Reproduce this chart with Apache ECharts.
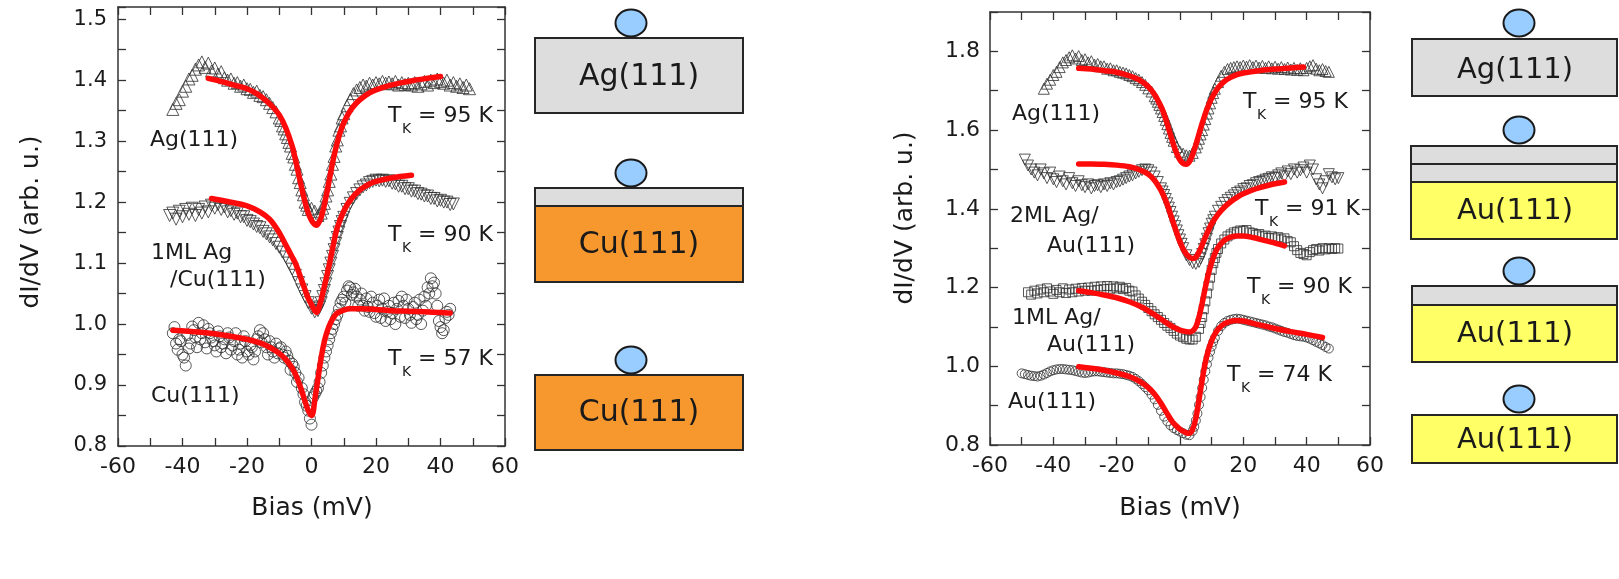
<!DOCTYPE html>
<html>
<head>
<meta charset="utf-8">
<script src="https://cdn.jsdelivr.net/npm/echarts@6/dist/echarts.min.js"></script>
<style>
html,body{margin:0;padding:0;background:#fff;}
#chart{width:1619px;height:579px;}
</style>
</head>
<body>
<div id="chart"></div>
<script>
// ---------------- data (bias in mV, dI/dV in arb. u.) ----------------
// Left panel: Ag(111), 1ML Ag/Cu(111), Cu(111)
const agLeftData = [
[-43,1.352],[-42,1.362],[-41,1.368],[-40,1.382],[-39,1.390],[-38,1.402],[-37,1.408],[-36,1.418],[-35,1.425],[-34,1.430],
[-33,1.421],[-32,1.428],[-31,1.415],[-30,1.420],[-29,1.410],[-28,1.414],[-27,1.404],[-26,1.400],[-25,1.402],[-24,1.395],
[-23,1.396],[-22,1.390],[-21,1.392],[-20,1.386],[-19,1.385],[-18,1.380],[-17,1.382],[-16,1.375],[-15,1.373],[-14,1.368],
[-13,1.362],[-12,1.355],[-11,1.348],[-10,1.338],[-9.5,1.334],[-9,1.325],[-8.5,1.320],[-8,1.312],[-7.5,1.306],[-7,1.298],
[-6.5,1.292],[-6,1.280],[-5.5,1.274],[-5,1.262],[-4.5,1.254],[-4,1.240],[-3.5,1.232],[-3,1.220],[-2.5,1.212],[-2,1.200],
[-1.5,1.195],[-1,1.188],[0,1.190],[1,1.185],[2,1.178],[3,1.182],[3.5,1.190],[4,1.198],[4.5,1.210],[5,1.220],[5.5,1.234],
[6,1.246],[6.5,1.262],[7,1.275],[7.5,1.292],[8,1.302],[8.5,1.318],[9,1.325],[9.5,1.338],[10,1.345],[11,1.358],[12,1.368],
[13,1.378],[14,1.384],[15,1.388],[16,1.392],[17,1.390],[18,1.395],[19,1.392],[20,1.396],[21,1.394],[22,1.398],[23,1.395],
[24,1.397],[25,1.394],[26,1.398],[27,1.392],[28,1.396],[29,1.393],[30,1.395],[31,1.392],[32,1.396],[33,1.390],[34,1.394],
[35,1.398],[36,1.392],[37,1.400],[38,1.396],[39,1.402],[40,1.398],[41,1.395],[42,1.400],[43,1.392],[44,1.396],[45,1.390],
[46,1.394],[47,1.388],[48,1.392],[49,1.386]
];
const agLeftFit = [
[-32,1.403],[-28,1.398],[-24,1.392],[-20,1.386],[-17,1.378],[-14,1.366],[-12,1.356],[-10,1.343],[-8,1.322],[-6,1.292],
[-5,1.270],[-4,1.246],[-3,1.222],[-2,1.200],[-1,1.182],[0,1.170],[1,1.163],[1.5,1.162],[2,1.164],[3,1.175],[4,1.196],
[5,1.222],[6,1.250],[7,1.276],[8,1.298],[9,1.316],[10,1.330],[12,1.350],[14,1.363],[16,1.372],[18,1.379],[20,1.384],
[24,1.391],[28,1.396],[32,1.400],[36,1.403],[40,1.406]
];
const agCuData = [
[-44,1.178],[-43,1.182],[-42,1.172],[-41,1.185],[-40,1.176],[-39,1.188],[-38,1.180],[-37,1.190],[-36,1.178],[-35,1.188],
[-34,1.182],[-33,1.192],[-32,1.184],[-31,1.195],[-30,1.190],[-29,1.196],[-28,1.188],[-27,1.192],[-26,1.184],[-25,1.186],
[-24,1.180],[-23,1.182],[-22,1.176],[-21,1.176],[-20,1.170],[-19,1.168],[-18,1.164],[-17,1.160],[-16,1.158],[-15,1.152],
[-14,1.148],[-13,1.143],[-12,1.138],[-11,1.132],[-10,1.126],[-9,1.118],[-8,1.110],[-7,1.100],[-6,1.090],[-5,1.080],
[-4,1.068],[-3,1.056],[-2,1.045],[-1,1.035],[0,1.026],[1,1.020],[2,1.022],[2.5,1.028],[3,1.035],[3.5,1.045],[4,1.055],
[4.5,1.066],[5,1.078],[5.5,1.089],[6,1.100],[6.5,1.111],[7,1.122],[7.5,1.132],[8,1.142],[8.5,1.151],[9,1.160],[9.5,1.168],
[10,1.175],[11,1.188],[12,1.198],[13,1.207],[14,1.214],[15,1.220],[16,1.225],[17,1.228],[18,1.232],[19,1.234],[20,1.236],
[21,1.235],[22,1.236],[23,1.234],[24,1.235],[25,1.231],[26,1.230],[27,1.226],[28,1.226],[29,1.222],[30,1.222],[31,1.218],
[32,1.218],[33,1.214],[34,1.213],[35,1.210],[36,1.210],[37,1.206],[38,1.206],[39,1.202],[40,1.203],[41,1.200],[42,1.200],
[43,1.196],[44,1.197]
];
const agCuFit = [
[-31,1.206],[-26,1.201],[-20,1.194],[-16,1.184],[-13,1.172],[-10,1.150],[-8,1.130],[-6,1.110],[-5,1.100],[-4,1.086],
[-3,1.071],[-2,1.056],[-1,1.042],[0,1.032],[1,1.022],[1.5,1.019],[2,1.022],[3,1.040],[4,1.062],[5,1.085],[6,1.110],
[7,1.136],[8,1.158],[10,1.185],[12,1.203],[15,1.220],[18,1.230],[20,1.234],[25,1.240],[31,1.244]
];
const cuLeftData = [
[-43,0.985],[-42,0.968],[-41,0.975],[-40,0.950],[-39,0.932],[-38,0.960],[-37,0.996],[-36,0.978],[-35,1.002],[-34,0.985],
[-33,0.970],[-32,0.992],[-31,0.978],[-30,0.965],[-29,0.988],[-28,0.962],[-27,0.975],[-26,0.985],[-25,0.958],[-24,0.972],
[-23,0.950],[-22,0.968],[-21,0.980],[-20,0.955],[-19,0.965],[-18,0.942],[-17,0.975],[-16,0.990],[-15,0.985],[-14,0.962],
[-13,0.972],[-12,0.955],[-11,0.968],[-10,0.960],[-9,0.950],[-8,0.955],[-7,0.940],[-6,0.935],[-5,0.920],[-4,0.912],
[-3,0.895],[-2.5,0.885],[-2,0.872],[-1.5,0.866],[-1,0.858],[-0.5,0.845],[0,0.835],[0.5,0.880],[1,0.885],[1.5,0.890],
[2,0.895],[2.5,0.905],[3,0.920],[3.5,0.932],[4,0.945],[4.5,0.955],[5,0.965],[5.5,0.975],[6,0.985],[6.5,0.992],[7,1.000],
[7.5,1.008],[8,1.015],[8.5,1.025],[9,1.035],[9.5,1.040],[10,1.045],[11,1.055],[12,1.060],[13,1.052],[14,1.045],[15,1.040],
[16,1.030],[17,1.042],[18,1.020],[19,1.035],[20,1.012],[21,1.040],[22,1.025],[23,1.005],[24,1.030],[25,1.018],[26,1.000],
[27,1.038],[28,1.045],[29,1.010],[30,1.025],[31,1.002],[32,1.035],[33,1.015],[34,1.000],[35,1.045],[36,1.060],[37,1.075],
[38,1.068],[39,1.030],[40,0.995],[41,0.990],[42,1.020],[43,1.025],
[-42.5,0.995],[-41.5,0.958],[-40.5,0.972],[-39.5,0.945],[-38.5,0.982],[-37.5,0.968],[-36.5,0.990],[-35.5,0.962],
[-34.5,0.975],[-33.5,0.998],[-32.5,0.960],[-31.5,0.985],[-30.5,0.972],[-29.5,0.955],[-28.5,0.980],[-27.5,0.968],
[-26.5,0.952],[-25.5,0.978],[-24.5,0.965],[-23.5,0.985],[-22.5,0.958],[-21.5,0.945],[-20.5,0.972],[-19.5,0.950],
[-18.5,0.962],[-17.5,0.955],[-16.5,0.980],[-15.5,0.970],[-14.5,0.975],[-13.5,0.950],[-12.5,0.962],[-11.5,0.945],
[-10.5,0.952],[-9.5,0.962],[-8.5,0.945],[-7.5,0.948],[-6.5,0.925],[-5.5,0.930],[-4.5,0.905],
[10.5,1.035],[11.5,1.062],[12.5,1.048],[13.5,1.058],[14.5,1.030],[15.5,1.050],[16.5,1.022],[17.5,1.028],[18.5,1.045],
[19.5,1.018],[20.5,1.030],[21.5,1.010],[22.5,1.042],[23.5,1.020],[24.5,1.008],[25.5,1.035],[26.5,1.025],[27.5,1.012],
[28.5,1.030],[29.5,1.040],[30.5,1.015],[31.5,1.028],[32.5,1.008],[33.5,1.040],[34.5,1.022],[35.5,1.030],[36.5,1.050],
[37.5,1.062],[38.5,1.050],[39.5,1.005],[40.5,0.985],[41.5,1.010],[42.5,1.015]
];
const cuLeftFit = [
[-43,0.990],[-35,0.987],[-30,0.984],[-25,0.980],[-20,0.975],[-16,0.969],[-13,0.962],[-10,0.952],[-8,0.942],[-6,0.928],
[-5,0.918],[-4,0.905],[-3,0.890],[-2,0.873],[-1,0.858],[0,0.850],[0.5,0.855],[1,0.875],[2,0.910],[3,0.945],[4,0.972],
[5,0.990],[6,1.003],[7,1.012],[8,1.018],[10,1.023],[12,1.025],[16,1.025],[20,1.024],[25,1.022],[30,1.021],[35,1.020],
[40,1.019],[43,1.018]
];

// Right panel: Ag(111), 2ML Ag/Au(111), 1ML Ag/Au(111), Au(111)
const agRightData = [
[-43,1.705],[-42,1.718],[-41,1.728],[-40,1.740],[-39,1.748],[-38,1.760],[-37,1.772],[-36,1.778],[-35,1.785],[-34,1.790],
[-33,1.782],[-32,1.788],[-31,1.778],[-30,1.780],[-29,1.772],[-28,1.775],[-27,1.766],[-26,1.768],[-25,1.762],[-24,1.762],
[-23,1.756],[-22,1.757],[-21,1.752],[-20,1.752],[-19,1.748],[-18,1.746],[-17,1.744],[-16,1.740],[-15,1.737],[-14,1.732],
[-13,1.728],[-12,1.722],[-11,1.715],[-10,1.706],[-9,1.698],[-8,1.686],[-7.5,1.680],[-7,1.672],[-6.5,1.664],[-6,1.655],
[-5.5,1.646],[-5,1.636],[-4.5,1.626],[-4,1.615],[-3.5,1.604],[-3,1.593],[-2.5,1.583],[-2,1.573],[-1,1.557],[0,1.545],
[1,1.540],[2,1.536],[3,1.535],[4,1.542],[5,1.556],[5.5,1.566],[6,1.578],[6.5,1.589],[7,1.600],[7.5,1.614],[8,1.628],
[8.5,1.642],[9,1.655],[9.5,1.668],[10,1.682],[10.5,1.694],[11,1.705],[12,1.722],[13,1.738],[14,1.748],[15,1.755],
[16,1.758],[17,1.760],[18,1.762],[19,1.760],[20,1.764],[21,1.761],[22,1.765],[23,1.760],[24,1.764],[25,1.759],[26,1.763],
[27,1.758],[28,1.762],[29,1.757],[30,1.761],[31,1.756],[32,1.760],[33,1.755],[34,1.759],[35,1.754],[36,1.758],[37,1.753],
[38,1.757],[39,1.752],[40,1.758],[41,1.762],[42,1.765],[43,1.756],[44,1.752],[45,1.755],[46,1.750],[47,1.748]
];
const agRightFit = [
[-32,1.757],[-28,1.755],[-24,1.751],[-20,1.747],[-16,1.738],[-13,1.728],[-10,1.710],[-8,1.690],[-6,1.660],[-5,1.640],
[-4,1.615],[-3,1.588],[-2,1.562],[-1,1.540],[0,1.524],[1,1.515],[2,1.513],[3,1.520],[4,1.538],[5,1.562],[6,1.590],
[7,1.617],[8,1.642],[9,1.663],[10,1.681],[12,1.707],[14,1.724],[16,1.734],[18,1.741],[20,1.745],[25,1.751],[30,1.755],
[35,1.758],[39,1.760]
];
const ag2AuData = [
[-49,1.525],[-48,1.510],[-47,1.500],[-46,1.492],[-45,1.485],[-44,1.500],[-43,1.490],[-42,1.478],[-41,1.492],[-40,1.475],
[-39,1.468],[-38,1.482],[-37,1.470],[-36,1.462],[-35,1.478],[-34,1.465],[-33,1.458],[-32,1.470],[-31,1.460],[-30,1.455],
[-29,1.462],[-28,1.452],[-27,1.458],[-26,1.460],[-25,1.455],[-24,1.462],[-23,1.458],[-22,1.465],[-21,1.462],[-20,1.468],
[-19,1.470],[-18,1.474],[-17,1.478],[-16,1.482],[-15,1.485],[-14,1.490],[-13,1.494],[-12,1.498],[-11,1.500],[-10,1.498],
[-9,1.492],[-8,1.482],[-7,1.468],[-6,1.452],[-5.5,1.444],[-5,1.435],[-4.5,1.425],[-4,1.414],[-3.5,1.403],[-3,1.392],
[-2.5,1.380],[-2,1.368],[-1.5,1.356],[-1,1.345],[-0.5,1.333],[0,1.322],[0.5,1.311],[1,1.300],[2,1.282],[3,1.270],
[4,1.262],[5,1.260],[6,1.265],[6.5,1.274],[7,1.285],[7.5,1.298],[8,1.310],[8.5,1.324],[9,1.338],[9.5,1.350],[10,1.362],
[10.5,1.371],[11,1.380],[12,1.395],[13,1.405],[14,1.415],[15,1.422],[16,1.428],[17,1.434],[18,1.440],[19,1.444],[20,1.450],
[21,1.452],[22,1.458],[23,1.460],[24,1.465],[25,1.468],[26,1.470],[27,1.474],[28,1.476],[29,1.480],[30,1.478],[31,1.485],
[32,1.490],[33,1.482],[34,1.495],[35,1.488],[36,1.500],[37,1.492],[38,1.498],[39,1.505],[40,1.492],[41,1.510],[42,1.500],
[43,1.475],[44,1.462],[45,1.452],[46,1.470],[47,1.488],[48,1.480],[49,1.475],[50,1.478]
];
const ag2AuFit = [
[-32,1.514],[-28,1.514],[-24,1.513],[-20,1.511],[-16,1.507],[-13,1.500],[-10,1.488],[-8,1.472],[-6,1.447],[-5,1.430],
[-4,1.410],[-3,1.386],[-2,1.362],[-1,1.338],[0,1.316],[1,1.298],[2,1.285],[3,1.277],[4,1.274],[5,1.277],[6,1.290],
[7,1.308],[8,1.328],[9,1.346],[10,1.362],[12,1.386],[14,1.404],[16,1.418],[18,1.429],[20,1.438],[24,1.451],[28,1.460],
[33,1.468]
];
const ag1AuData = [
[-48,1.188],[-47,1.182],[-46,1.192],[-45,1.185],[-44,1.195],[-43,1.188],[-42,1.198],[-41,1.190],[-40,1.184],[-39,1.194],
[-38,1.188],[-37,1.198],[-36,1.186],[-35,1.195],[-34,1.188],[-33,1.197],[-32,1.190],[-31,1.199],[-30,1.192],[-29,1.200],
[-28,1.192],[-27,1.202],[-26,1.194],[-25,1.203],[-24,1.196],[-23,1.204],[-22,1.197],[-21,1.203],[-20,1.198],[-19,1.202],
[-18,1.196],[-17,1.199],[-16,1.192],[-15,1.190],[-14,1.180],[-13,1.172],[-12,1.164],[-11,1.156],[-10,1.148],[-9,1.140],
[-8,1.132],[-7,1.125],[-6,1.118],[-5,1.110],[-4,1.103],[-3,1.097],[-2,1.090],[-1,1.083],[0,1.078],[1,1.074],[2,1.070],
[3,1.068],[4,1.068],[5,1.075],[6,1.095],[6.5,1.110],[7,1.125],[7.5,1.145],[8,1.165],[8.5,1.185],[9,1.205],[9.5,1.225],
[10,1.245],[10.5,1.262],[11,1.275],[11.5,1.288],[12,1.298],[13,1.312],[14,1.322],[15,1.330],[16,1.335],[17,1.340],
[18,1.342],[19,1.345],[20,1.344],[21,1.346],[22,1.340],[23,1.338],[24,1.334],[25,1.336],[26,1.330],[27,1.332],[28,1.326],
[29,1.330],[30,1.325],[31,1.328],[32,1.322],[33,1.325],[34,1.318],[35,1.315],[36,1.305],[37,1.295],[38,1.288],[39,1.285],
[40,1.282],[41,1.290],[42,1.295],[43,1.298],[44,1.294],[45,1.300],[46,1.297],[47,1.300],[48,1.298],[49,1.300],[50,1.299]
];
const ag1AuFit = [
[-32,1.192],[-28,1.187],[-24,1.181],[-20,1.174],[-16,1.164],[-12,1.150],[-10,1.141],[-8,1.131],[-6,1.120],[-4,1.109],
[-2,1.099],[0,1.092],[2,1.088],[3,1.087],[4,1.090],[5,1.100],[6,1.125],[7,1.160],[8,1.200],[9,1.236],[10,1.264],
[11,1.286],[12,1.302],[14,1.320],[16,1.328],[18,1.331],[20,1.331],[23,1.327],[26,1.321],[30,1.313],[33,1.306]
];
const auRightData = [
[-50,0.982],[-49,0.980],[-48,0.978],[-47,0.976],[-46,0.975],[-45,0.974],[-44,0.976],[-43,0.979],[-42,0.983],[-41,0.987],
[-40,0.990],[-39,0.992],[-38,0.993],[-37,0.993],[-36,0.992],[-35,0.991],[-34,0.990],[-33,0.988],[-32,0.986],[-31,0.984],
[-30,0.983],[-29,0.984],[-28,0.986],[-27,0.987],[-26,0.987],[-25,0.986],[-24,0.985],[-23,0.984],[-22,0.983],[-21,0.982],
[-20,0.982],[-19,0.981],[-18,0.980],[-17,0.978],[-16,0.976],[-15,0.973],[-14,0.968],[-13,0.962],[-12,0.955],[-11,0.947],
[-10,0.939],[-9,0.928],[-8,0.916],[-7,0.902],[-6,0.887],[-5,0.872],[-4,0.860],[-3,0.850],[-2,0.843],[-1,0.838],[0,0.834],
[1,0.830],[2,0.826],[3,0.825],[4,0.836],[4.5,0.846],[5,0.862],[5.5,0.880],[6,0.902],[6.5,0.922],[7,0.945],[7.5,0.966],
[8,0.987],[8.5,1.005],[9,1.022],[9.5,1.037],[10,1.050],[10.5,1.062],[11,1.072],[12,1.090],[13,1.102],[14,1.110],[15,1.115],
[16,1.118],[17,1.120],[18,1.121],[19,1.120],[20,1.118],[21,1.116],[22,1.114],[23,1.112],[24,1.110],[25,1.108],[26,1.106],
[27,1.104],[28,1.101],[29,1.099],[30,1.096],[31,1.093],[32,1.090],[33,1.087],[34,1.085],[35,1.082],[36,1.079],[37,1.077],
[38,1.076],[39,1.075],[40,1.073],[41,1.070],[42,1.066],[43,1.062],[44,1.058],[45,1.054],[46,1.049],[47,1.045]
];
const auRightFit = [
[-32,0.999],[-28,0.995],[-24,0.990],[-20,0.983],[-16,0.974],[-13,0.963],[-10,0.946],[-8,0.929],[-6,0.906],[-4,0.879],
[-2,0.855],[0,0.840],[1,0.835],[2,0.831],[3,0.830],[4,0.840],[5,0.868],[6,0.915],[7,0.965],[8,1.010],[9,1.042],[10,1.065],
[11,1.082],[12,1.094],[14,1.108],[16,1.114],[18,1.116],[20,1.115],[25,1.105],[30,1.096],[35,1.088],[40,1.081],[45,1.073]
];

// Axis ranges / tick steps
const xRange = [-60, 60], xStep = 20;
const yLeftRange = [0.8, 1.52], yLeftStep = 0.1;
const yRightRange = [0.8, 1.9], yRightStep = 0.2;

// Text labels
const leftCurveLabels = ['Ag(111)', '1ML Ag', '/Cu(111)', 'Cu(111)'];
const rightCurveLabels = ['Ag(111)', '2ML Ag/', 'Au(111)', '1ML Ag/', 'Au(111)', 'Au(111)'];
const leftTK = ['95', '90', '57'];
const rightTK = ['95', '91', '90', '74'];
const axisTitles = { x: 'Bias (mV)', y: 'dI/dV (arb. u.)' };
const schematicLeft = ['Ag(111)', 'Cu(111)', 'Cu(111)'];
const schematicRight = ['Ag(111)', 'Au(111)', 'Au(111)', 'Au(111)'];

// ---------------- chart ----------------
const FONT = 'DejaVu Sans';
const INK = '#1a1a1a';
const FRAME = '#333';
const chart = echarts.init(document.getElementById('chart'), null, { renderer: 'canvas' });

function xAx(grid, pos, labels) {
  return {
    type: 'value', gridIndex: grid, position: pos, min: xRange[0], max: xRange[1], interval: xStep,
    axisLine: { show: true, onZero: false, lineStyle: { color: FRAME, width: 1.5 } },
    axisTick: { show: true, inside: true, length: 8, lineStyle: { color: FRAME, width: 1.3 } },
    minorTick: { show: true, splitNumber: 2, length: 8, lineStyle: { color: FRAME, width: 1.3 } },
    axisLabel: { show: labels, margin: 10, color: INK, fontFamily: FONT, fontSize: 22 },
    splitLine: { show: false }, minorSplitLine: { show: false }
  };
}
function yAx(grid, pos, labels, range, step, lblSize, margin) {
  return {
    type: 'value', gridIndex: grid, position: pos, min: range[0], max: range[1], interval: step,
    axisLine: { show: true, onZero: false, lineStyle: { color: FRAME, width: 1.5 } },
    axisTick: { show: true, inside: true, length: 8, lineStyle: { color: FRAME, width: 1.3 } },
    minorTick: { show: true, splitNumber: 2, length: 8, lineStyle: { color: FRAME, width: 1.3 } },
    axisLabel: { show: labels, margin: margin, color: INK, fontFamily: FONT, fontSize: lblSize,
      showMaxLabel: false, formatter: v => v.toFixed(1) },
    splitLine: { show: false }, minorSplitLine: { show: false }
  };
}

const markerStyle = { color: 'rgba(255,255,255,0)', borderColor: '#2e2e2e', borderWidth: 1 };
function scat(data, xi, yi, symbol, size, rot) {
  return { type: 'scatter', xAxisIndex: xi, yAxisIndex: yi, data: data, symbol: symbol, symbolSize: size,
    symbolRotate: rot || 0, itemStyle: markerStyle, silent: true, z: 2 };
}
function fit(data, xi, yi) {
  return { type: 'line', xAxisIndex: xi, yAxisIndex: yi, data: data, showSymbol: false, smooth: 0.3,
    lineStyle: { color: '#ff0a0a', width: 5.5, cap: 'round', join: 'round' }, silent: true, z: 5 };
}

// graphics helpers
function txt(x, y, s, size, align, rot) {
  return { type: 'text', x: x, y: y, rotation: rot || 0, z: 10,
    style: { text: s, fill: INK, font: size + 'px "' + FONT + '"', align: align || 'left', verticalAlign: 'middle' } };
}
function tk(L, base, val) {
  return [
    txt(L, base - 8, 'T', 22),
    txt(L + 14, base + 5, 'K', 14),
    txt(L + 30, base - 8, '= ' + val + ' K', 22)
  ];
}
function bead(cx, cy) {
  return { type: 'ellipse', shape: { cx: cx, cy: cy, rx: 15.5, ry: 13.5 }, z: 10,
    style: { fill: '#99ccff', stroke: '#1a1a1a', lineWidth: 2 } };
}
function box(x, y, w, h, fill) {
  return { type: 'rect', shape: { x: x, y: y, width: w, height: h }, z: 10,
    style: { fill: fill, stroke: '#262626', lineWidth: 2 } };
}
const GRAY = '#dddddd', ORANGE = '#f7982f', YELLOW = '#ffff66';

const g = [];
// axis titles
g.push(txt(312, 508, axisTitles.x, 25, 'center'));
g.push(txt(1180, 508, axisTitles.x, 25, 'center'));
g.push(txt(31, 222, axisTitles.y, 25, 'center', Math.PI / 2));
g.push(txt(905, 218, axisTitles.y, 25, 'center', Math.PI / 2));
// curve labels left
g.push(txt(150, 140, leftCurveLabels[0], 22));
g.push(txt(151, 253, leftCurveLabels[1], 22));
g.push(txt(170, 280, leftCurveLabels[2], 22));
g.push(txt(151, 396, leftCurveLabels[3], 22));
g.push(...tk(388, 124, leftTK[0]));
g.push(...tk(388, 243, leftTK[1]));
g.push(...tk(388, 367, leftTK[2]));
// curve labels right
g.push(txt(1012, 114, rightCurveLabels[0], 22));
g.push(txt(1010, 216, rightCurveLabels[1], 22));
g.push(txt(1047, 246, rightCurveLabels[2], 22));
g.push(txt(1012, 318, rightCurveLabels[3], 22));
g.push(txt(1047, 345, rightCurveLabels[4], 22));
g.push(txt(1008, 402, rightCurveLabels[5], 22));
g.push(...tk(1243, 110, rightTK[0]));
g.push(...tk(1255, 217, rightTK[1]));
g.push(...tk(1247, 295, rightTK[2]));
g.push(...tk(1227, 383, rightTK[3]));

// schematics left
g.push(box(535, 38, 208, 75, GRAY), bead(631, 23), txt(639, 77, schematicLeft[0], 30, 'center'));
g.push(box(535, 206, 208, 76, ORANGE), box(535, 188, 208, 18, GRAY), bead(631, 173), txt(639, 245, schematicLeft[1], 30, 'center'));
g.push(box(535, 375, 208, 75, ORANGE), bead(631, 360), txt(639, 413, schematicLeft[2], 30, 'center'));
// schematics right
g.push(box(1412, 39, 205, 57, GRAY), bead(1519, 23), txt(1515, 70, schematicRight[0], 29, 'center'));
g.push(box(1411, 182, 206, 57, YELLOW), box(1411, 164, 206, 18, GRAY), box(1411, 146, 206, 18, GRAY), bead(1519, 130), txt(1515, 211, schematicRight[1], 29, 'center'));
g.push(box(1412, 305, 205, 57, YELLOW), box(1412, 286, 205, 19, GRAY), bead(1519, 271), txt(1515, 334, schematicRight[2], 29, 'center'));
g.push(box(1412, 415, 205, 48, YELLOW), bead(1519, 399), txt(1515, 440, schematicRight[3], 29, 'center'));

const option = {
  animation: false,
  backgroundColor: '#ffffff',
  grid: [
    { left: 118, top: 7, width: 387, height: 439, show: false },
    { left: 990, top: 12, width: 380, height: 433, show: false }
  ],
  xAxis: [ xAx(0, 'bottom', true), xAx(0, 'top', false), xAx(1, 'bottom', true), xAx(1, 'top', false) ],
  yAxis: [
    yAx(0, 'left', true, yLeftRange, yLeftStep, 21, 11),
    yAx(0, 'right', false, yLeftRange, yLeftStep, 21, 11),
    yAx(1, 'left', true, yRightRange, yRightStep, 22, 10),
    yAx(1, 'right', false, yRightRange, yRightStep, 22, 10)
  ],
  series: [
    scat(agLeftData, 0, 0, 'triangle', 12),
    scat(agCuData, 0, 0, 'triangle', 12, 180),
    scat(cuLeftData, 0, 0, 'circle', 11),
    scat(agRightData, 2, 2, 'triangle', 11),
    scat(ag2AuData, 2, 2, 'triangle', 11, 180),
    scat(ag1AuData, 2, 2, 'rect', 9),
    scat(auRightData, 2, 2, 'circle', 9),
    fit(agLeftFit, 0, 0), fit(agCuFit, 0, 0), fit(cuLeftFit, 0, 0),
    fit(agRightFit, 2, 2), fit(ag2AuFit, 2, 2), fit(ag1AuFit, 2, 2), fit(auRightFit, 2, 2)
  ],
  graphic: g
};
chart.setOption(option);
</script>
</body>
</html>
